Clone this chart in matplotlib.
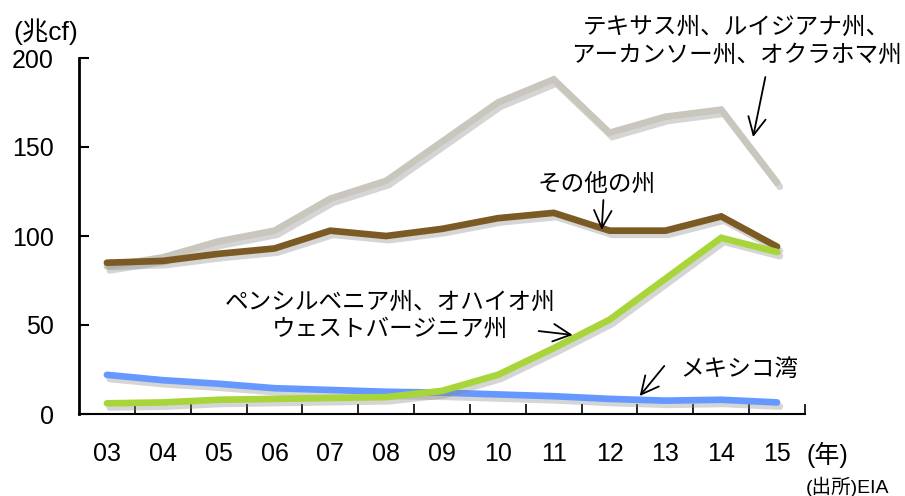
import numpy as np
import matplotlib
matplotlib.use('Agg')
import matplotlib.pyplot as plt
import matplotlib.patheffects as pe

plt.rcParams['font.family'] = ['Liberation Sans', 'Noto Sans CJK JP', 'DejaVu Sans']

years = ['03', '04', '05', '06', '07', '08', '09', '10', '11', '12', '13', '14', '15']
texas = [83, 88, 97, 103, 121, 131, 153, 175, 188, 158, 167, 171, 130]
others = [85, 86, 90, 93, 103, 100, 104, 110, 113, 103, 103, 111, 94]
appalachia = [6, 6.5, 8, 8.5, 9, 9.5, 13, 22, 37, 53, 76, 99, 91]
gulf = [22, 19, 17, 14.5, 13.5, 12.5, 12, 11, 10, 8.5, 7.5, 8, 6.5]

W, H = 905, 496
fig = plt.figure(figsize=(W / 100, H / 100), dpi=100)
ax = fig.add_axes([79 / W, 82 / H, 726 / W, 356 / H])

x = np.arange(len(years))
shadow = [pe.SimpleLineShadow(offset=(2, -3), shadow_color='#888888', alpha=0.35),
          pe.Normal()]
for vals, col in [(texas, '#c9c6bd'), (others, '#7b5a23'),
                  (gulf, '#6699ff'), (appalachia, '#a8d63a')]:
    ax.plot(x, vals, color=col, lw=4.8, solid_capstyle='round',
            solid_joinstyle='miter', path_effects=shadow)

ax.set_xlim(-0.5, 12.5)
ax.set_ylim(0, 200)
ax.set_yticks([0, 50, 100, 150, 200])
ax.set_xticks(x)
ax.set_xticklabels(years)
ax.set_xticks(np.arange(0.5, 12.6, 1), minor=True)
ax.tick_params(axis='x', which='major', length=0, pad=20, labelsize=18)
ax.tick_params(axis='x', which='minor', direction='in', length=7, width=1.2)
ax.tick_params(axis='y', direction='in', length=7, width=1.5, pad=18, labelsize=18)
for s in ['top', 'right']:
    ax.spines[s].set_visible(False)
ax.spines['left'].set_linewidth(2)
ax.spines['bottom'].set_linewidth(1.5)


def px(xp, yp):
    return xp / W, 1 - yp / H


# arrows (data coordinates)
arrow = dict(arrowstyle='->,head_length=0.7,head_width=0.35', color='black',
             lw=1.3, mutation_scale=18, shrinkA=0, shrinkB=0)
for start, end in [((11.79, 189.3), (11.57, 155.6)),
                   ((8.89, 120.2), (8.86, 103.4)),
                   ((7.73, 46.6), (8.34, 44.4)),
                   ((9.98, 27.0), (9.54, 10.1))]:
    ax.annotate('', xy=end, xytext=start, arrowprops=arrow, annotation_clip=False)

fs = 17
fig.text(*px(736, 42), 'テキサス州、ルイジアナ州、\nアーカンソー州、オクラホマ州',
         ha='center', va='center', fontsize=fs, linespacing=1.35)
fig.text(*px(597, 185), 'その他の州', ha='center', va='center', fontsize=fs)
fig.text(*px(390, 316), 'ペンシルベニア州、オハイオ州\nウェストバージニア州',
         ha='center', va='center', fontsize=fs, linespacing=1.3)
fig.text(*px(680, 370), 'メキシコ湾', ha='left', va='center', fontsize=fs)

fig.text(*px(13, 32), '(兆cf)', fontsize=19, va='center', ha='left')
fig.text(*px(806, 455), '(年)', fontsize=18, va='center', ha='left')
fig.text(*px(806, 487), '(出所)EIA', fontsize=14, va='center', ha='left')

fig.savefig('out.png', dpi=100)
